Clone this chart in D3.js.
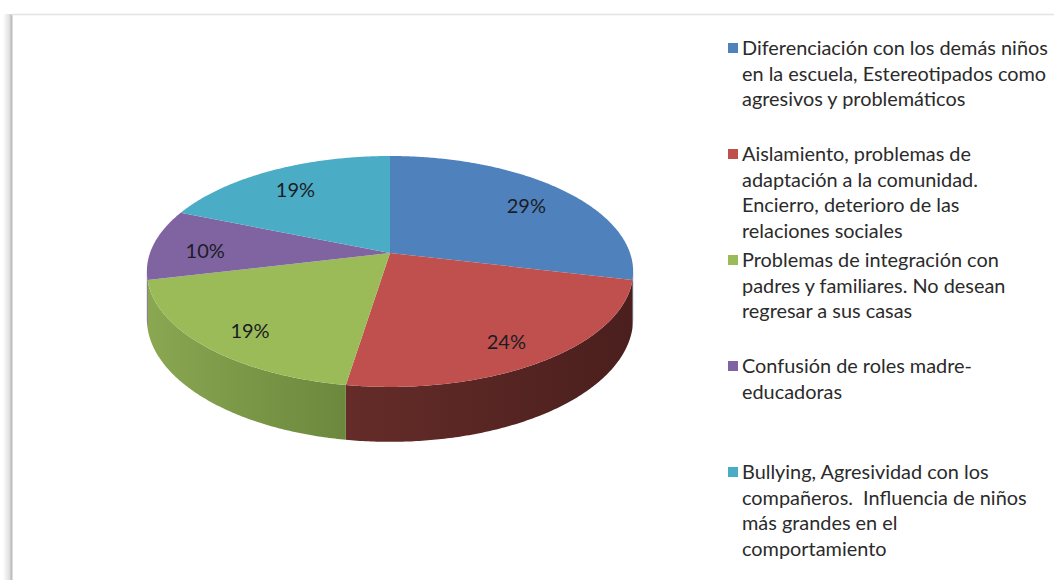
<!DOCTYPE html>
<html lang="es">
<head>
<meta charset="UTF-8">
<title>Pie 3D</title>
<script src="https://d3js.org/d3.v7.min.js"></script>
<style>
    body { margin: 0; background: #fff; }
    svg { display: block; }
    .legend text { font-family: Lato, "Open Sans", sans-serif; fill: #2b2b2b; }
    .pct { font-family: Lato, "Open Sans", sans-serif; fill: #1c1c24; }
</style>
</head>
<body>
<script>
    // data
    const categories = [
        "Diferenciación con los demás niños en la escuela, Estereotipados como agresivos y problemáticos",
        "Aislamiento, problemas de adaptación a la comunidad. Encierro, deterioro de las relaciones sociales",
        "Problemas de integración con padres y familiares. No desean regresar a sus casas",
        "Confusión de roles madre-educadoras",
        "Bullying, Agresividad con los compañeros.  Influencia de niños más grandes en el comportamiento"
    ];
    const legendLines = [
        ["Diferenciación con los demás niños", "en la escuela, Estereotipados como", "agresivos y problemáticos"],
        ["Aislamiento, problemas de", "adaptación a la comunidad.", "Encierro, deterioro de las", "relaciones sociales"],
        ["Problemas de integración con", "padres y familiares. No desean", "regresar a sus casas"],
        ["Confusión de roles madre-", "educadoras"],
        ["Bullying, Agresividad con los", "compañeros.\u00a0 Influencia de niños", "más grandes en el", "comportamiento"]
    ];
    const values = [29, 24, 19, 10, 19];
    const colors = ["#4f81bd", "#c0504d", "#9bbb59", "#8064a2", "#4bacc6"];
    const sideLight = ["#41699a", "#652c29", "#8aa752", "#644e80", "#3b8ca2"];
    const sideDark = ["#34557e", "#4a1f1d", "#6b883d", "#4d3c63", "#2f7183"];

    const width = 1054, height = 580;
    const cx = 390, cy = 253, R = 240, Ry = 112.5;
    const persp = 0.16;      // far side is drawn smaller
    const thick = 0.41;      // slab height, in units of Ry

    const svg = d3.select("body").append("svg")
        .attr("width", width)
        .attr("height", height);

    svg.append("rect").attr("width", width).attr("height", height).attr("fill", "#fff");

    // frame with soft shadow on the left
    const defs = svg.append("defs");
    const sh = defs.append("linearGradient").attr("id", "shadowL")
        .attr("x1", 0).attr("x2", 1).attr("y1", 0).attr("y2", 0);
    sh.append("stop").attr("offset", 0).attr("stop-color", "#fff");
    sh.append("stop").attr("offset", 1).attr("stop-color", "#d6d6d6");
    svg.append("rect").attr("x", 3).attr("y", 14).attr("width", 8).attr("height", height - 14)
        .attr("fill", "url(#shadowL)");
    svg.append("line").attr("x1", 11.5).attr("x2", 11.5).attr("y1", 14).attr("y2", height)
        .attr("stroke", "#bdbdbd").attr("stroke-width", 2);
    svg.append("line").attr("x1", 11).attr("x2", width).attr("y1", 14.5).attr("y2", 14.5)
        .attr("stroke", "#e4e4e4").attr("stroke-width", 1.5);

    const xs = d3.scaleLinear().domain([-1, 1]).range([cx - R, cx + R]);
    const ys = d3.scaleLinear().domain([-1, 1]).range([cy - Ry, cy + Ry]);

    // angle clockwise from 12 o'clock, r = radius fraction, z = 0 top / 1 bottom
    function project(a, r, z) {
        const u = r * Math.sin(a), v = -r * Math.cos(a);
        const w = 1 - persp * v;
        return [xs(u / w), ys((v + thick * z) / w)];
    }

    function samples(a0, a1) {
        const n = Math.max(2, Math.ceil(Math.abs(a1 - a0) / 0.01));
        return d3.range(n + 1).map(i => a0 + (a1 - a0) * i / n);
    }

    const arcs = d3.pie().sort(null).value(d => d)(values);
    const line = d3.line();

    // front facing part of the outer wall
    const visA = Math.acos(-persp), visB = 2 * Math.PI - Math.acos(-persp);
    const walls = svg.append("g");
    arcs.forEach((d, i) => {
        const a0 = Math.max(d.startAngle, visA), a1 = Math.min(d.endAngle, visB);
        if (a1 <= a0) return;
        const top = samples(a0, a1).map(a => project(a, 1, 0));
        const bot = samples(a0, a1).reverse().map(a => project(a, 1, 1));
        const pts = top.concat(bot);
        const ex = d3.extent(pts, p => p[0]);
        const g = defs.append("linearGradient").attr("id", "side" + i)
            .attr("gradientUnits", "userSpaceOnUse")
            .attr("x1", ex[0]).attr("x2", ex[1]).attr("y1", 0).attr("y2", 0);
        g.append("stop").attr("offset", 0).attr("stop-color", sideLight[i]);
        g.append("stop").attr("offset", 1).attr("stop-color", sideDark[i]);
        walls.append("path")
            .attr("d", line(pts) + "Z")
            .attr("fill", "url(#side" + i + ")");
    });

    // top faces
    const tops = svg.append("g");
    arcs.forEach((d, i) => {
        const pts = [project(0, 0, 0)].concat(samples(d.startAngle, d.endAngle).map(a => project(a, 1, 0)));
        tops.append("path")
            .attr("d", line(pts) + "Z")
            .attr("fill", colors[i]);
    });

    // percentage labels
    svg.append("g").selectAll("text")
        .data(arcs)
        .join("text")
        .attr("class", "pct")
        .attr("text-anchor", "middle")
        .attr("dominant-baseline", "central")
        .attr("font-size", 20)
        .attr("x", d => project((d.startAngle + d.endAngle) / 2, 0.78, 0)[0])
        .attr("y", d => project((d.startAngle + d.endAngle) / 2, 0.8, 0)[1] + 4)
        .text(d => d.value + "%");

    // legend
    const ly = d3.scalePoint().domain(categories).range([47, 471]);
    const lineH = 25.5;
    const legend = svg.append("g").attr("class", "legend");
    const item = legend.selectAll("g")
        .data(categories)
        .join("g")
        .attr("transform", d => "translate(0," + ly(d) + ")");
    item.append("rect")
        .attr("x", 728).attr("y", -4).attr("width", 10).attr("height", 10)
        .attr("fill", (d, i) => colors[i]);
    const txt = item.append("text")
        .attr("x", 742)
        .attr("font-size", 18);
    txt.selectAll("tspan")
        .data((d, i) => legendLines[i])
        .join("tspan")
        .attr("x", 742)
        .attr("y", (d, j) => j * lineH)
        .attr("dominant-baseline", "central")
        .text(d => d);

    // size legend text so the widest line spans like the picture
    const first = txt.select("tspan").node();
    const w0 = first.getComputedTextLength();
    const fs = 18 * 306 / w0;
    txt.attr("font-size", fs);
</script>
</body>
</html>
